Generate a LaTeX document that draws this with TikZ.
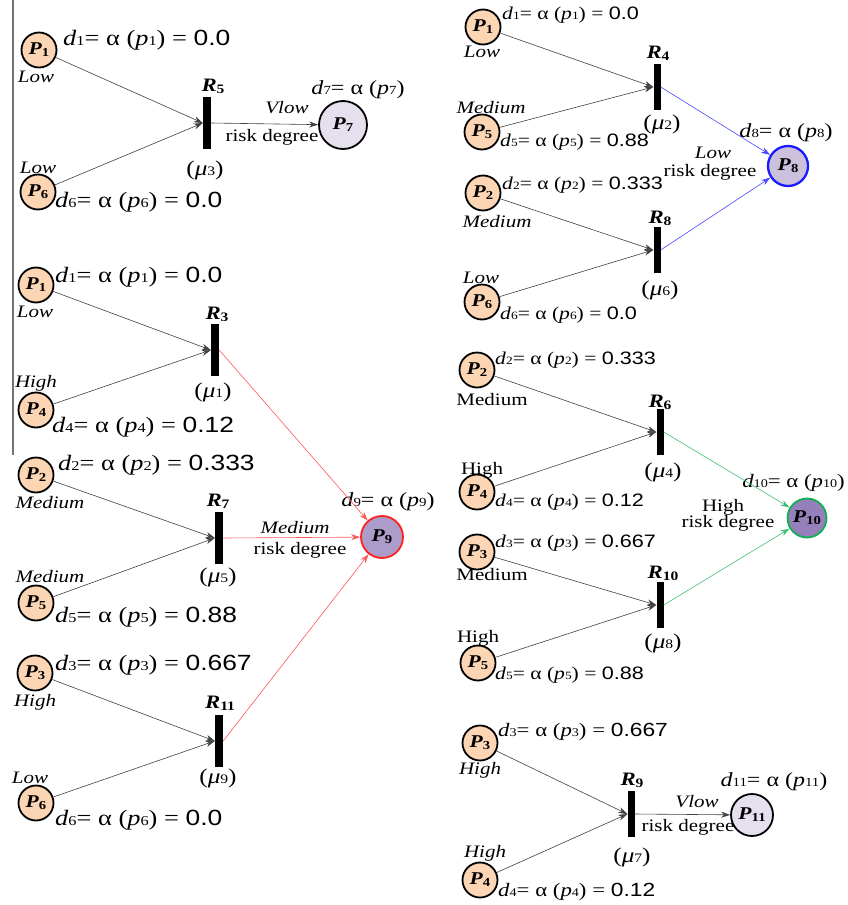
\documentclass[tikz,border=0pt]{standalone}
\usepackage{fontspec}
\setmainfont{Liberation Serif}[FakeStretch=1.2]
\newfontfamily\numf{Liberation Sans}[FakeStretch=1.2]
\usetikzlibrary{arrows.meta}

\definecolor{peach}{HTML}{FCD5B4}
\definecolor{lav}{HTML}{E6E0EE}
\definecolor{lavb}{HTML}{CCC1DC}
\definecolor{lavm}{HTML}{AC9CCA}
\definecolor{lavd}{HTML}{9580BB}
\definecolor{outblue}{HTML}{1A1AFF}
\definecolor{outred}{HTML}{FF2020}
\definecolor{outgreen}{HTML}{10B050}

\newcommand{\sm}[1]{\scalebox{0.62}{#1}}
\newcommand{\dlab}[1]{\textit{d}\sm{#1}= α (\textit{p}\sm{#1})}
\newcommand{\Pn}[1]{\textbf{\textit{P}}\raisebox{-0.12em}{\scalebox{0.68}{\bfseries #1}}}
\newcommand{\Rn}[1]{\textbf{\textit{R}}\raisebox{-0.12em}{\scalebox{0.68}{\bfseries #1}}}
\newcommand{\mun}[1]{(\textit{μ}\sm{#1})}

\begin{document}
\begin{tikzpicture}[x=1pt, y=-1pt,
    place/.style={circle, draw, line width=1.8pt, fill=peach, minimum size=35pt,
        inner sep=0pt, font=\fontsize{18}{18}\selectfont},
    outp/.style={circle, draw, line width=1.8pt, inner sep=0pt,
        font=\fontsize{18}{18}\selectfont},
    bar/.style={fill=black, minimum width=8pt, minimum height=52pt, inner sep=0pt},
    sbar/.style={bar, minimum width=7pt, minimum height=46pt},
    lvl/.style={font=\itshape\fontsize{17.5}{17.5}\selectfont},
    lvlup/.style={font=\fontsize{17.5}{17.5}\selectfont},
    eqa/.style={anchor=west, inner sep=0pt, font=\fontsize{22}{22}\selectfont},
    eqb/.style={anchor=west, inner sep=0pt, font=\fontsize{18}{18}\selectfont},
    eqc/.style={anchor=west, inner sep=0pt, font=\fontsize{19}{19}\selectfont},
    eqo/.style={inner sep=0pt, font=\fontsize{20}{20}\selectfont},
    rlab/.style={inner sep=0pt, font=\fontsize{19}{19}\selectfont},
    mu/.style={inner sep=0pt, font=\fontsize{21}{21}\selectfont},
    arc/.style={draw=black!75, line width=0.6pt, -{Stealth[length=9pt,width=6pt]}},
    oarc/.style={line width=0.6pt, -{Stealth[length=9pt,width=6pt]}}]
\useasboundingbox (0,0) rectangle (847,905);
\draw[black!55, line width=1.5pt] (13,0) -- (13,455);

% R5 -> P7
\node[place] (aP1) at (39,50) {\Pn{1}};
\node[lvl] at (36,77) {Low};
\node[eqa] at (63,40) {\dlab{1} = {\numf 0.0}};
\node[place] (aP6) at (38,192) {\Pn{6}};
\node[lvl] at (38,168) {Low};
\node[eqa] at (55,202) {\dlab{6} = {\numf 0.0}};
\node[bar] (aR5) at (207,123) {};
\node[rlab] at (213,86) {\Rn{5}};
\node[mu] at (205,170) {\mun{3}};
\node[outp, fill=lav, minimum size=48pt] (P7) at (343,125) {\Pn{7}};
\node[eqo] at (358,90) {\dlab{7}};
\node[lvl] at (287,108) {Vlow};
\node[lvlup] at (272,137) {risk degree};
\draw[arc] (aP1) -- (aR5.west);
\draw[arc] (aP6) -- (aR5.west);
\draw[arc] (aR5.east) -- (P7);

% R3, R7, R11 -> P9
\node[place] (bP1) at (36,285) {\Pn{1}};
\node[lvl] at (35,312) {Low};
\node[eqa] at (55,277) {\dlab{1} = {\numf 0.0}};
\node[place] (bP4) at (36,410) {\Pn{4}};
\node[lvl] at (36,383) {High};
\node[eqa] at (52,427) {\dlab{4} = {\numf 0.12}};
\node[bar] (bR3) at (215,350) {};
\node[rlab] at (217,314) {\Rn{3}};
\node[mu] at (213,392) {\mun{1}};
\node[place] (bP2) at (36,475) {\Pn{2}};
\node[lvl] at (50,503) {Medium};
\node[eqa] at (58,465) {\dlab{2} = {\numf 0.333}};
\node[place] (bP5) at (36,603) {\Pn{5}};
\node[lvl] at (50,577) {Medium};
\node[eqa] at (55,617) {\dlab{5} = {\numf 0.88}};
\node[bar] (bR7) at (219,538) {};
\node[rlab] at (218,501) {\Rn{7}};
\node[mu] at (218,577) {\mun{5}};
\node[place] (bP3) at (35,673) {\Pn{3}};
\node[lvl] at (35,702) {High};
\node[eqa] at (55,665) {\dlab{3} = {\numf 0.667}};
\node[place] (bP6) at (36,803) {\Pn{6}};
\node[lvl] at (30,778) {Low};
\node[eqa] at (55,820) {\dlab{6} = {\numf 0.0}};
\node[bar] (bR11) at (219,741) {};
\node[rlab] at (220,703) {\Rn{11}};
\node[mu] at (218,778) {\mun{9}};
\node[outp, draw=outred, fill=lavm, minimum size=42pt] (P9) at (382,537) {\Pn{9}};
\node[eqo] at (388,502) {\dlab{9}};
\node[lvl] at (295,528) {Medium};
\node[lvlup] at (300,550) {risk degree};
\draw[arc] (bP1) -- (bR3.west);
\draw[arc] (bP4) -- (bR3.west);
\draw[arc] (bP2) -- (bR7.west);
\draw[arc] (bP5) -- (bR7.west);
\draw[arc] (bP3) -- (bR11.west);
\draw[arc] (bP6) -- (bR11.west);
\draw[oarc, outred!75] (bR3.east) -- (P9);
\draw[oarc, outred!75] (bR7.east) -- (P9);
\draw[oarc, outred!75] (bR11.east) -- (P9);

% R4, R8 -> P8
\node[place] (cP1) at (483,27) {\Pn{1}};
\node[lvl] at (482,52) {Low};
\node[eqb] at (502,15) {\dlab{1} = {\numf 0.0}};
\node[place] (cP5) at (482,132) {\Pn{5}};
\node[lvl] at (491,108) {Medium};
\node[eqb] at (500,142) {\dlab{5} = {\numf 0.88}};
\node[sbar] (cR4) at (657,87) {};
\node[rlab] at (658,53) {\Rn{4}};
\node[mu] at (662,124) {\mun{2}};
\node[place] (cP2) at (483,193) {\Pn{2}};
\node[lvl] at (497,222) {Medium};
\node[eqb] at (502,185) {\dlab{2} = {\numf 0.333}};
\node[place] (cP6) at (482,302) {\Pn{6}};
\node[lvl] at (481,278) {Low};
\node[eqb] at (500,315) {\dlab{6} = {\numf 0.0}};
\node[sbar] (cR8) at (657,250) {};
\node[rlab] at (660,218) {\Rn{8}};
\node[mu] at (660,290) {\mun{6}};
\node[outp, draw=outblue, fill=lavb, line width=2.3pt, minimum size=40pt] (P8) at (788,166) {\Pn{8}};
\node[eqo] at (786,133) {\dlab{8}};
\node[lvl] at (713,153) {Low};
\node[lvlup] at (710,172) {risk degree};
\draw[arc] (cP1) -- (cR4.west);
\draw[arc] (cP5) -- (cR4.west);
\draw[arc] (cP2) -- (cR8.west);
\draw[arc] (cP6) -- (cR8.west);
\draw[oarc, outblue!80] (cR4.east) -- (P8);
\draw[oarc, outblue!80] (cR8.east) -- (P8);

% R6, R10 -> P10
\node[place] (dP2) at (477,370) {\Pn{2}};
\node[lvlup] at (492,400) {Medium};
\node[eqb] at (495,360) {\dlab{2} = {\numf 0.333}};
\node[place] (dP4) at (477,492) {\Pn{4}};
\node[lvlup] at (482,470) {High};
\node[eqb] at (495,502) {\dlab{4} = {\numf 0.12}};
\node[sbar] (dR6) at (660,432) {};
\node[rlab] at (660,402) {\Rn{6}};
\node[mu] at (663,472) {\mun{4}};
\node[place] (dP3) at (477,552) {\Pn{3}};
\node[lvlup] at (492,575) {Medium};
\node[eqb] at (495,543) {\dlab{3} = {\numf 0.667}};
\node[place] (dP5) at (478,663) {\Pn{5}};
\node[lvlup] at (478,638) {High};
\node[eqb] at (495,675) {\dlab{5} = {\numf 0.88}};
\node[sbar] (dR10) at (660,605) {};
\node[rlab] at (663,573) {\Rn{10}};
\node[mu] at (663,643) {\mun{8}};
\node[outp, draw=outgreen, fill=lavd, minimum size=39pt] (P10) at (807,518) {\Pn{10}};
\node[eqo, anchor=east, font=\fontsize{19}{19}\selectfont] at (845,483) {\dlab{10}};
\node[lvlup] at (723,507) {High};
\node[lvlup] at (728,523) {risk degree};
\draw[arc] (dP2) -- (dR6.west);
\draw[arc] (dP4) -- (dR6.west);
\draw[arc] (dP3) -- (dR10.west);
\draw[arc] (dP5) -- (dR10.west);
\draw[oarc, outgreen!80] (dR6.east) -- (P10);
\draw[oarc, outgreen!80] (dR10.east) -- (P10);

% R9 -> P11
\node[place] (eP3) at (480,743) {\Pn{3}};
\node[lvl] at (480,770) {High};
\node[eqc] at (498,732) {\dlab{3} = {\numf 0.667}};
\node[place] (eP4) at (480,880) {\Pn{4}};
\node[lvl] at (485,853) {High};
\node[eqc] at (498,892) {\dlab{4} = {\numf 0.12}};
\node[sbar] (eR9) at (631,814) {};
\node[rlab] at (632,780) {\Rn{9}};
\node[mu] at (632,857) {\mun{7}};
\node[outp, fill=lav, minimum size=42pt] (P11) at (752,815) {\Pn{11}};
\node[eqo] at (774,782) {\dlab{11}};
\node[lvl] at (697,802) {Vlow};
\node[lvlup] at (688,827) {risk degree};
\draw[arc] (eP3) -- (eR9.west);
\draw[arc] (eP4) -- (eR9.west);
\draw[arc] (eR9.east) -- (P11);
\end{tikzpicture}
\end{document}
